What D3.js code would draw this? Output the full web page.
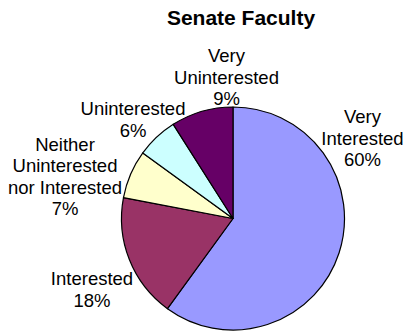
<!DOCTYPE html>
<html>
<head>
<meta charset="utf-8">
<script src="https://cdn.jsdelivr.net/npm/d3@7/dist/d3.min.js"></script>
<style>
  html, body { margin: 0; padding: 0; background: #fff; }
  svg { display: block; font-family: Arial, "Liberation Sans", sans-serif; }
</style>
</head>
<body>
<svg id="chart" width="406" height="331"></svg>
<script>
// Survey responses, in drawing order (clockwise from 12 o'clock)
const categories = ["Very Interested", "Interested", "Neither Uninterested nor Interested", "Uninterested", "Very Uninterested"];
const percents = [60, 18, 7, 6, 9];
const colors = ["#9999FF", "#993366", "#FFFFCC", "#CCFFFF", "#660066"];
// Label text lines for each slice (last line is the percentage)
const labelLines = [
  ["Very", "Interested"],
  ["Interested"],
  ["Neither", "Uninterested", "nor Interested"],
  ["Uninterested"],
  ["Very", "Uninterested"]
];
const title = "Senate Faculty";

const svg = d3.select("#chart");
const cx = 233, cy = 218.5, radius = 111.5;

svg.append("text")
  .attr("x", 241).attr("y", 25)
  .attr("text-anchor", "middle")
  .attr("font-size", 21).attr("font-weight", "bold")
  .text(title);

const pie = d3.pie().sort(null).value(d => d)(percents);
const arc = d3.arc().innerRadius(0).outerRadius(radius);

const g = svg.append("g").attr("transform", `translate(${cx},${cy})`);
g.selectAll("path").data(pie).join("path")
  .attr("d", arc)
  .attr("fill", (d, i) => colors[i])
  .attr("stroke", "#000")
  .attr("stroke-width", 1.2)
  .attr("stroke-linejoin", "round");

// Label block placement: centre x and first baseline for each slice
const labelPos = [
  [362.5, 123.3],
  [92, 285],
  [65, 150.7],
  [133, 115],
  [226.5, 62.3]
];
const lineH = 21.5;

pie.forEach((d, i) => {
  const lines = labelLines[i].concat([d3.format("d")(percents[i]) + "%"]);
  const t = svg.append("text")
    .attr("text-anchor", "middle")
    .attr("font-size", 18.5)
    .attr("fill", "#000");
  lines.forEach((s, k) => {
    t.append("tspan")
      .attr("x", labelPos[i][0])
      .attr("y", labelPos[i][1] + k * lineH)
      .text(s);
  });
});
</script>
</body>
</html>
